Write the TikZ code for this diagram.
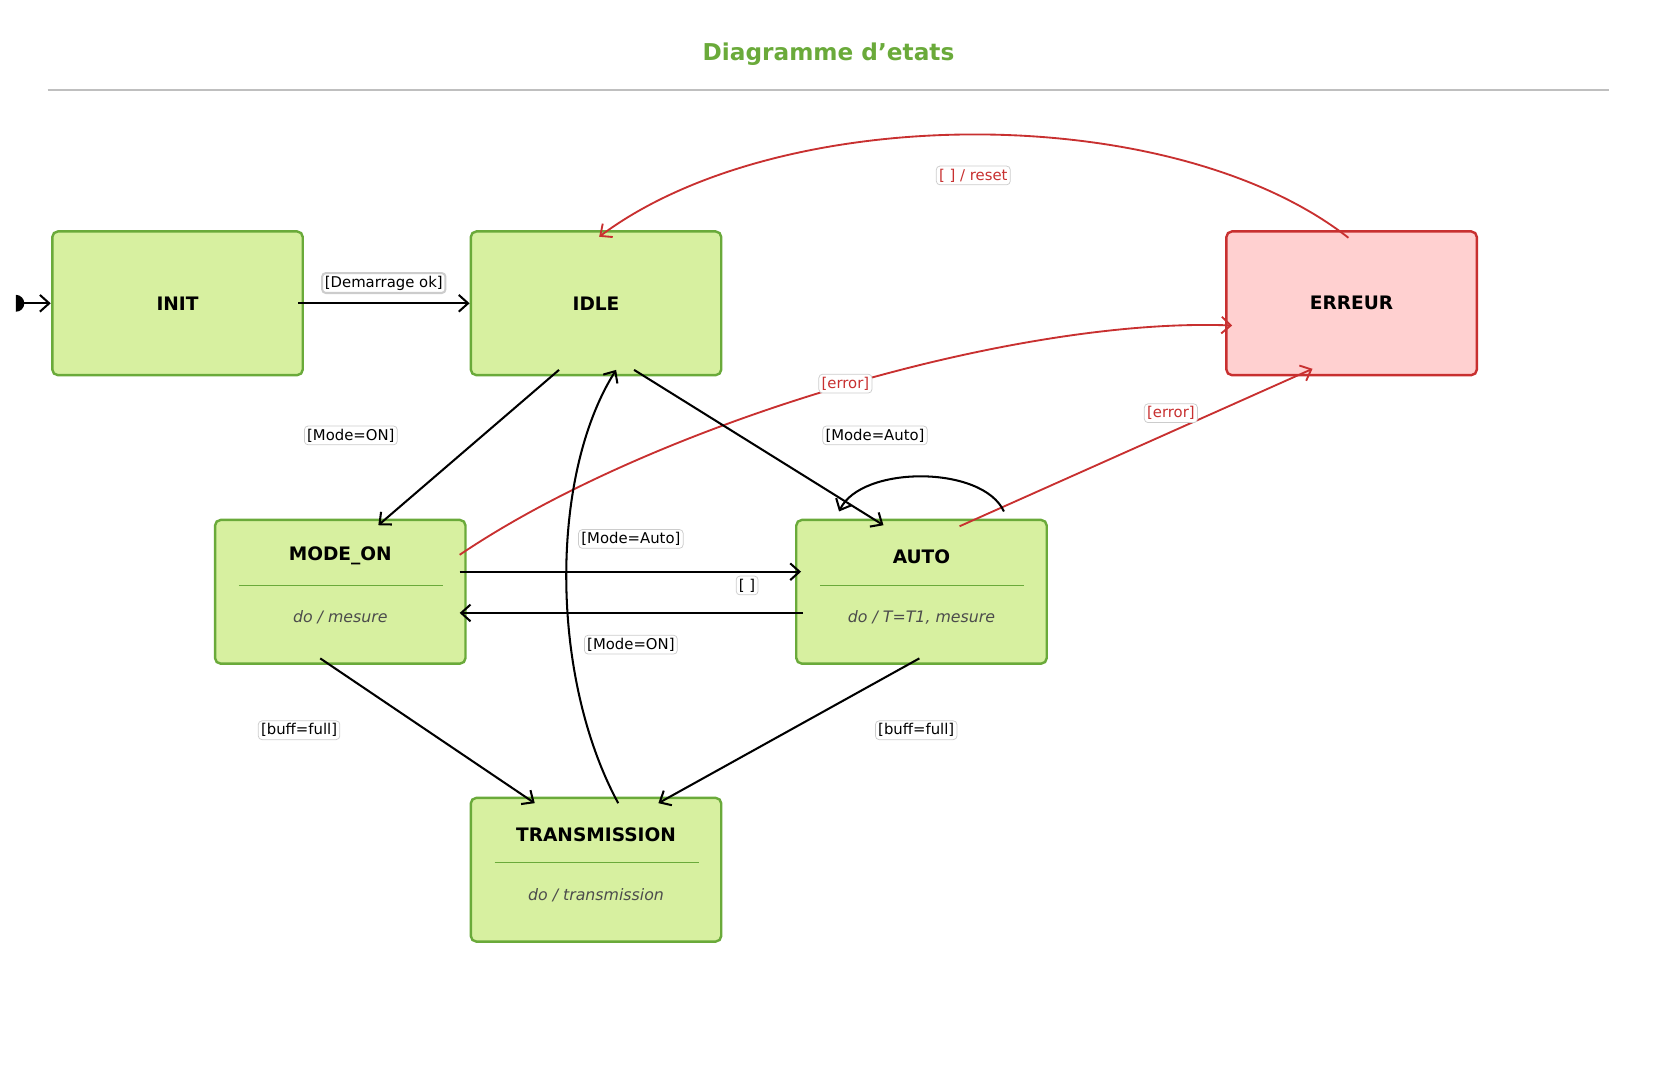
\documentclass[tikz,border=0pt]{standalone}
\usepackage{fontspec}
\setmainfont{DejaVu Sans}
\usetikzlibrary{arrows.meta}
\definecolor{gfill}{HTML}{D7F0A0}
\definecolor{gline}{HTML}{6AAA3A}
\definecolor{rfill}{HTML}{FFD0D0}
\definecolor{rline}{HTML}{C83030}
\begin{document}
\begin{tikzpicture}[x=0.02cm,y=-0.02cm,
 st/.style={draw=gline,fill=gfill,line width=1.3pt,rounded corners=3pt,minimum width=237*0.02cm,minimum height=136*0.02cm,font=\bfseries\fontsize{10}{12}\selectfont},
 er/.style={st,draw=rline,fill=rfill},
 tr/.style={line width=1.1pt,-{Straight Barb[length=5pt,width=9pt]}},
 rt/.style={tr,draw=rline,line width=1pt},
 lb/.style={fill=white,draw=black!20,rounded corners=2pt,inner sep=1.5pt,font=\fontsize{8}{10}\selectfont},
 rl/.style={lb,text=rline},
 sub/.style={font=\itshape\fontsize{8.5}{10}\selectfont,text=black!70},
 ttl/.style={font=\bfseries\fontsize{10}{12}\selectfont}]
\useasboundingbox (0,0) rectangle (1568,1012);
\node[font=\bfseries\fontsize{12.5}{14}\selectfont,text=gline] (title) at (784,51) {Diagramme d'etats};
\draw[black!25,line width=0.8pt] (45,85) -- (1523,85);
% states
\node[st] (init) at (168,287) {INIT};
\node[st] (idle) at (564,287) {IDLE};
\node[er] (err) at (1279,287) {ERREUR};
\node[st] (mon) at (322,560) {};
\node[ttl] (monT) at (322,526) {MODE\_ON};
\draw[gline,line width=0.5pt] (226,554) -- (419,554);
\node[sub] (monS) at (322,584) {do / mesure};
\node[st] (auto) at (872,560) {};
\node[ttl] (autoT) at (872,527) {AUTO};
\draw[gline,line width=0.5pt] (776,554) -- (969,554);
\node[sub] (autoS) at (872,584) {do / T=T1, mesure};
\node[st] (trans) at (564,823) {};
\node[ttl] (transT) at (564,790) {TRANSMISSION};
\draw[gline,line width=0.5pt] (468,816) -- (661,816);
\node[sub] (transS) at (564,847) {do / transmission};
% start
\begin{scope}
\clip (15,270) rectangle (40,305);
\fill (15,287) circle (8);
\end{scope}
\coordinate (s0) at (15,287);
\draw[tr] (s0) -- (48,287);
% transitions
\draw[tr] (282,287) -- (idle.west) node[lb,pos=0.5,above=5pt] {[Demarrage ok]};
\draw[rt] (1276,225) .. controls (1110,95) and (740,95) .. (567,224);
\node[rl] at (921,166) {[ ] / reset};
\draw[rt] (435,525) .. controls (620,400) and (960,300) .. (1166,308);
\node[rl] at (800,363) {[error]};
\draw[rt] (908,498) -- (1242,349);
\node[rl] at (1108,391) {[error]};
\draw[tr] (529,350) -- (358,497);
\node[lb] at (332,412) {[Mode=ON]};
\draw[tr] (600,350) -- (836,497);
\node[lb] at (828,412) {[Mode=Auto]};
\draw[tr] (950,484) .. controls (930,440) and (815,440) .. (794,484);
\node[lb] at (707,554) {[ ]};
\draw[tr] (435,541) -- (758,541);
\node[lb] at (597,510) {[Mode=Auto]};
\draw[tr] (760,580) -- (435,580);
\node[lb] at (597,610) {[Mode=ON]};
\draw[tr] (303,623) -- (506,760);
\node[lb] at (283,691) {[buff=full]};
\draw[tr] (870,623) -- (623,760);
\node[lb] at (867,691) {[buff=full]};
\draw[tr] (585,760) .. controls (520,640) and (520,450) .. (583,350);
\end{tikzpicture}
\end{document}
